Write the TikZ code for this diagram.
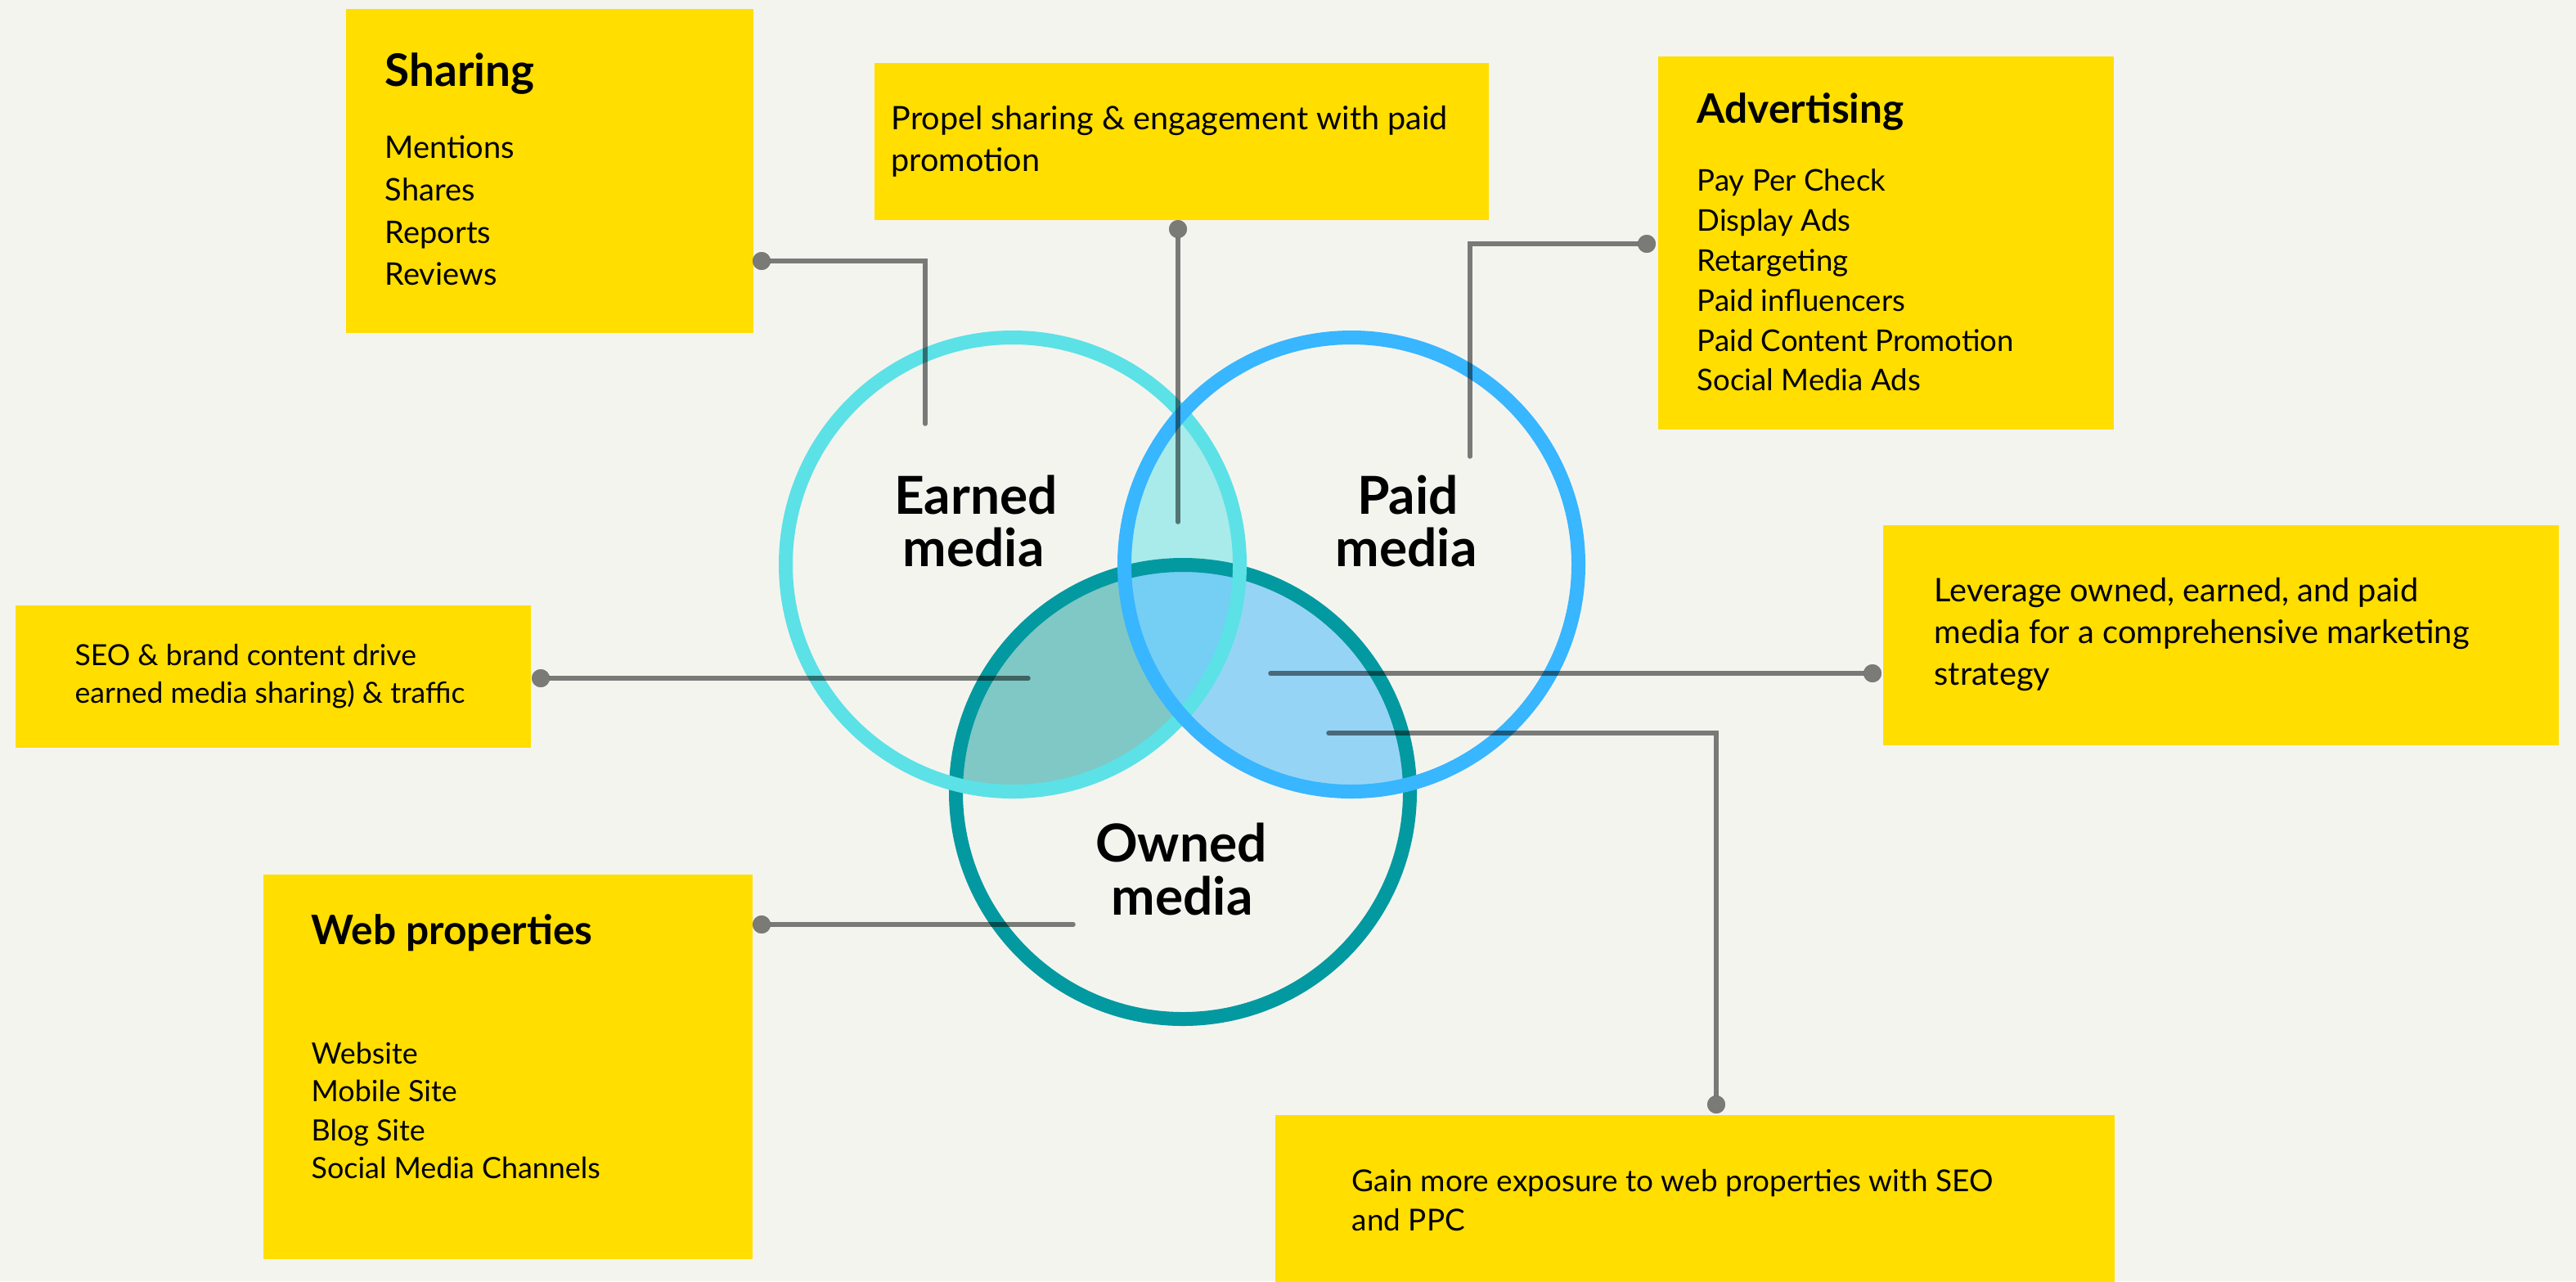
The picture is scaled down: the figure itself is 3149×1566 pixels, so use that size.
\documentclass[tikz,border=0pt]{standalone}
\usepackage{fontspec}
\setmainfont{Lato}
\definecolor{bg}{HTML}{F4F4EF}
\definecolor{yel}{HTML}{FFDE00}
\definecolor{earnedc}{HTML}{5CE1E6}
\definecolor{paidc}{HTML}{38B6FF}
\definecolor{ownedc}{HTML}{0399A0}
\definecolor{fEP}{HTML}{A8EBEA}
\definecolor{fEO}{HTML}{7FC8C6}
\definecolor{fPO}{HTML}{96D4F6}
\definecolor{fEPO}{HTML}{75CEF4}
\definecolor{dotc}{HTML}{7A7A76}
\begin{document}
\begin{tikzpicture}[x=0.01cm,y=-0.01cm,
  box/.style={fill=yel,draw=none,inner sep=0pt,anchor=north west},
  bodytxt/.style={font=\fontsize{#1}{13}\selectfont,anchor=base west,inner sep=0pt},
  bodytxt/.default=11.5,
  ttltxt/.style={font=\fontsize{#1}{18}\selectfont\bfseries,anchor=base west,inner sep=0pt},
  ttltxt/.default=14.1,
  labtxt/.style={font=\fontsize{18.2}{20}\selectfont\bfseries,anchor=base,inner sep=0pt},
  ring/.style={line width=0.17cm},
  conn/.style={draw=black,draw opacity=0.5,line width=0.055cm,line cap=round},
  dotn/.style={circle,fill=dotc,inner sep=0pt,minimum size=0.22cm}
]
\fill[bg] (0,0) rectangle (3149,1566);
\useasboundingbox (0,0) rectangle (3149,1566);

% circle centres
\coordinate (E) at (1238,690);
\coordinate (P) at (1652,690);
\coordinate (O) at (1446,968);
\def\R{277.5}

% fills
\begin{scope}
  \clip (E) circle (\R);
  \fill[fEP] (P) circle (\R);
  \fill[fEO] (O) circle (\R);
\end{scope}
\begin{scope}
  \clip (P) circle (\R);
  \fill[fPO] (O) circle (\R);
\end{scope}
\begin{scope}
  \clip (E) circle (\R);
  \clip (P) circle (\R);
  \fill[fEPO] (O) circle (\R);
\end{scope}

% rings
\draw[ring,draw=ownedc] (O) circle (\R);
\draw[ring,draw=earnedc] (E) circle (\R);
\draw[ring,draw=paidc] (P) circle (\R);

% circle labels
\node[labtxt] (lE1) at (1193,628) {Earned};
\node[labtxt] (lE2) at (1190,692) {media};
\node[labtxt] (lP1) at (1721,628) {Paid};
\node[labtxt] (lP2) at (1719,692) {media};
\node[labtxt] (lO1) at (1444,1053) {Owned};
\node[labtxt] (lO2) at (1445,1118) {media};

% boxes
\node[box,minimum width=4.98cm,minimum height=3.96cm] (sharing) at (422,10) {};
\node[box,minimum width=7.51cm,minimum height=1.92cm] (propel) at (1068,76) {};
\node[box,minimum width=5.57cm,minimum height=4.56cm] (advert) at (2026,68) {};
\node[box,minimum width=6.30cm,minimum height=1.74cm] (seo) at (18,739) {};
\node[box,minimum width=5.98cm,minimum height=4.70cm] (web) at (321,1068) {};
\node[box,minimum width=8.26cm,minimum height=2.69cm] (leverage) at (2301,641) {};
\node[box,minimum width=10.26cm,minimum height=2.20cm] (gain) at (1558,1362) {};

% texts
\node[ttltxt=15.6] (shT) at (470,105) {Sharing};
\node[bodytxt=10.8] (sh1) at (470,193) {Mentions};
\node[bodytxt=10.8] (sh2) at (470,245) {Shares};
\node[bodytxt=10.8] (sh3) at (470,297) {Reports};
\node[bodytxt=10.8] (sh4) at (470,348) {Reviews};

\node[bodytxt=11.25] (pr1) at (1089,158) {Propel sharing \& engagement with paid};
\node[bodytxt=11.25] (pr2) at (1089,209) {promotion};

\node[ttltxt] (adT) at (2074,150) {Advertising};
\node[bodytxt=10.4] (ad1) at (2074,233) {Pay Per Check};
\node[bodytxt=10.4] (ad2) at (2074,282) {Display Ads};
\node[bodytxt=10.4] (ad3) at (2074,331) {Retargeting};
\node[bodytxt=10.4] (ad4) at (2074,380) {Paid influencers};
\node[bodytxt=10.4] (ad5) at (2074,429) {Paid Content Promotion};
\node[bodytxt=10.4] (ad6) at (2074,477) {Social Media Ads};

\node[bodytxt=10.1] (se1) at (91,813) {SEO \& brand content drive};
\node[bodytxt=10.1] (se2) at (91,859) {earned media sharing) \& traffic};

\node[ttltxt] (wbT) at (380,1154) {Web properties};
\node[bodytxt=10.2] (wb1) at (380,1300) {Website};
\node[bodytxt=10.2] (wb2) at (380,1346) {Mobile Site};
\node[bodytxt=10.2] (wb3) at (380,1394) {Blog Site};
\node[bodytxt=10.2] (wb4) at (380,1440) {Social Media Channels};

\node[bodytxt=11.3] (lv1) at (2364,735) {Leverage owned, earned, and paid};
\node[bodytxt=11.3] (lv2) at (2364,786) {media for a comprehensive marketing};
\node[bodytxt=11.3] (lv3) at (2364,837) {strategy};

\node[bodytxt=10.5] (gn1) at (1652,1456) {Gain more exposure to web properties with SEO};
\node[bodytxt=10.5] (gn2) at (1652,1504) {and PPC};

% connector points
\coordinate (eSh) at (1131,518);
\coordinate (ePr) at (1440,638);
\coordinate (eAd) at (1797,558);
\coordinate (eSe) at (1257,829);
\coordinate (eWb) at (1312,1130);
\coordinate (eLv) at (1553,823);
\coordinate (eGn) at (1624,896);

\node[dotn] (dSh) at (931,319) {};
\node[dotn] (dPr) at (1440,280) {};
\node[dotn] (dAd) at (2013,298) {};
\node[dotn] (dSe) at (661,829) {};
\node[dotn] (dWb) at (931,1130) {};
\node[dotn] (dLv) at (2289,823) {};
\node[dotn] (dGn) at (2098,1350) {};

\draw[conn] (dSh.center) -| (eSh);
\draw[conn] (dPr.center) -- (ePr);
\draw[conn] (dAd.center) -| (eAd);
\draw[conn] (dSe.center) -- (eSe);
\draw[conn] (dWb.center) -- (eWb);
\draw[conn] (dLv.center) -- (eLv);
\draw[conn] (dGn.center) |- (eGn);

% dots on top
\foreach \d in {dSh,dPr,dAd,dSe,dWb,dLv,dGn} \fill[dotc] (\d) circle (11);
\end{tikzpicture}
\end{document}
